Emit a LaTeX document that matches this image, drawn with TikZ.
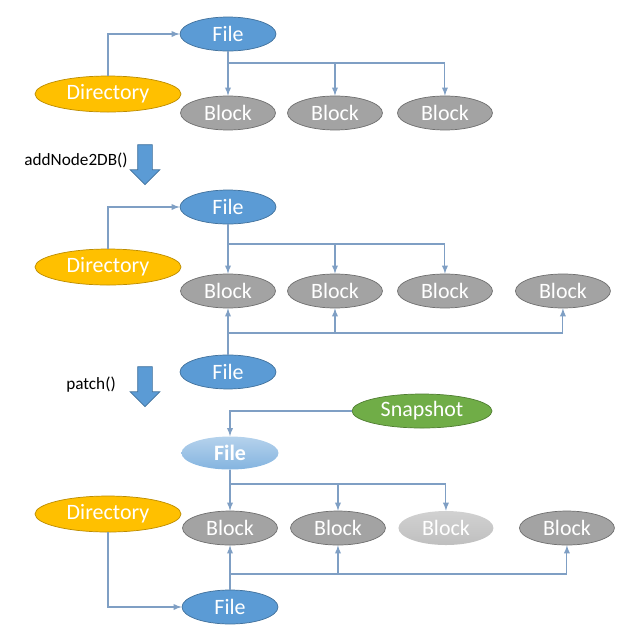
\documentclass[tikz,border=0pt]{standalone}
\usepackage{fontspec}
\setmainfont{Carlito}
\usetikzlibrary{shapes,arrows,positioning}
\definecolor{fileblue}{HTML}{5B9BD5}
\definecolor{fileline}{HTML}{41719C}
\definecolor{dirfill}{HTML}{FFC000}
\definecolor{dirline}{HTML}{BC8C00}
\definecolor{blockfill}{HTML}{A3A3A3}
\definecolor{blockline}{HTML}{6F6F6F}
\definecolor{snapfill}{HTML}{70AD47}
\definecolor{snapline}{HTML}{507E32}
\definecolor{linkcol}{HTML}{7F9FC4}
\tikzset{basic/.style={ellipse,draw,text=white,font=\fontsize{12.5}{14}\selectfont,inner sep=0pt}}
\tikzset{file/.style={basic,fill=fileblue,draw=fileline,minimum width=1.92cm,minimum height=0.68cm}}
\tikzset{oldfile/.style={basic,draw=none,top color=fileblue!45,bottom color=fileblue!75,minimum width=1.94cm,minimum height=0.66cm,font=\fontsize{12.5}{14}\selectfont\bfseries}}
\tikzset{dir/.style={basic,fill=dirfill,draw=dirline,minimum width=2.92cm,minimum height=0.72cm}}
\tikzset{block/.style={basic,fill=blockfill,draw=blockline,minimum width=1.9cm,minimum height=0.68cm}}
\tikzset{oldblock/.style={basic,draw=none,top color=black!18,bottom color=black!25,minimum width=1.9cm,minimum height=0.68cm}}
\tikzset{snap/.style={basic,fill=snapfill,draw=snapline,minimum width=2.8cm,minimum height=0.68cm}}
\tikzset{link/.style={draw=linkcol,line width=0.6pt,-latex}}
\tikzset{fat/.style={single arrow,draw=fileline,fill=fileblue,shape border rotate=270,inner sep=0.14cm,minimum height=0.8cm,single arrow head extend=0.15cm,single arrow tip angle=90}}
\tikzset{call/.style={font=\fontsize{9.8}{12}\selectfont}}

\begin{document}
\begin{tikzpicture}[x=0.02cm,y=-0.02cm,node distance=2.14cm]
    \useasboundingbox (0,0) rectangle (644,637);

    % before
    \node[file] (f1) at (228,34) {File};
    \node[dir] (d1) at (108,94) {Directory};
    \node[block,below of=f1,node distance=1.58cm] (b11) {Block};
    \node[block,right of=b11] (b12) {Block};
    \node[block,right of=b12,node distance=2.2cm] (b13) {Block};
    \coordinate (s1) at (228,63);

        \path[link] (d1.north) |- (f1.west);
        \path[link] (f1.south) -- (b11.north);
        \path[link] (s1) -| (b12.north);
        \path[link] (s1) -| (b13.north);

    \node[fat] (go1) at (145,161) {};
    \node[call] (add) at (76,160) {addNode2DB()};

    % after addNode2DB()
    \node[file] (f2) at (228,207) {File};
    \node[dir] (d2) at (108,267) {Directory};
    \node[block,below of=f2,node distance=1.68cm] (b21) {Block};
    \node[block,right of=b21] (b22) {Block};
    \node[block,right of=b22,node distance=2.2cm] (b23) {Block};
    \node[block,right of=b23,node distance=2.36cm] (b24) {Block};
    \node[file,below of=b21,node distance=1.62cm] (f3) {File};
    \coordinate (s2) at (228,244);
    \coordinate (t2) at (228,333);

        \path[link] (d2.north) |- (f2.west);
        \path[link] (f2.south) -- (b21.north);
        \path[link] (s2) -| (b22.north);
        \path[link] (s2) -| (b23.north);
        \path[link] (f3.north) -- (b21.south);
        \path[link] (t2) -| (b22.south);
        \path[link] (t2) -| (b24.south);

    \node[fat] (go2) at (145,383) {};
    \node[call] (patch) at (91,385) {patch()};

    % after patch()
    \node[snap] (snap) at (422,411) {Snapshot};
    \node[oldfile] (f5) at (230,453) {File};
    \node[dir] (d3) at (108,514) {Directory};
    \node[block] (b31) at (230,528) {Block};
    \node[block,right of=b31,node distance=2.16cm] (b32) {Block};
    \node[oldblock,right of=b32,node distance=2.16cm] (b33) {Block};
    \node[block,right of=b33,node distance=2.42cm] (b34) {Block};
    \node[file,below of=b31,node distance=1.58cm] (f4) {File};
    \coordinate (s3) at (230,484);
    \coordinate (t3) at (230,574);

        \path[link] (snap.west) -| (f5.north);
        \path[link] (f5.south) -- (b31.north);
        \path[link] (s3) -| (b32.north);
        \path[link] (s3) -| (b33.north);
        \path[link] (d3.south) |- (f4.west);
        \path[link] (f4.north) -- (b31.south);
        \path[link] (t3) -| (b32.south);
        \path[link] (t3) -| (b34.south);
\end{tikzpicture}
\end{document}
